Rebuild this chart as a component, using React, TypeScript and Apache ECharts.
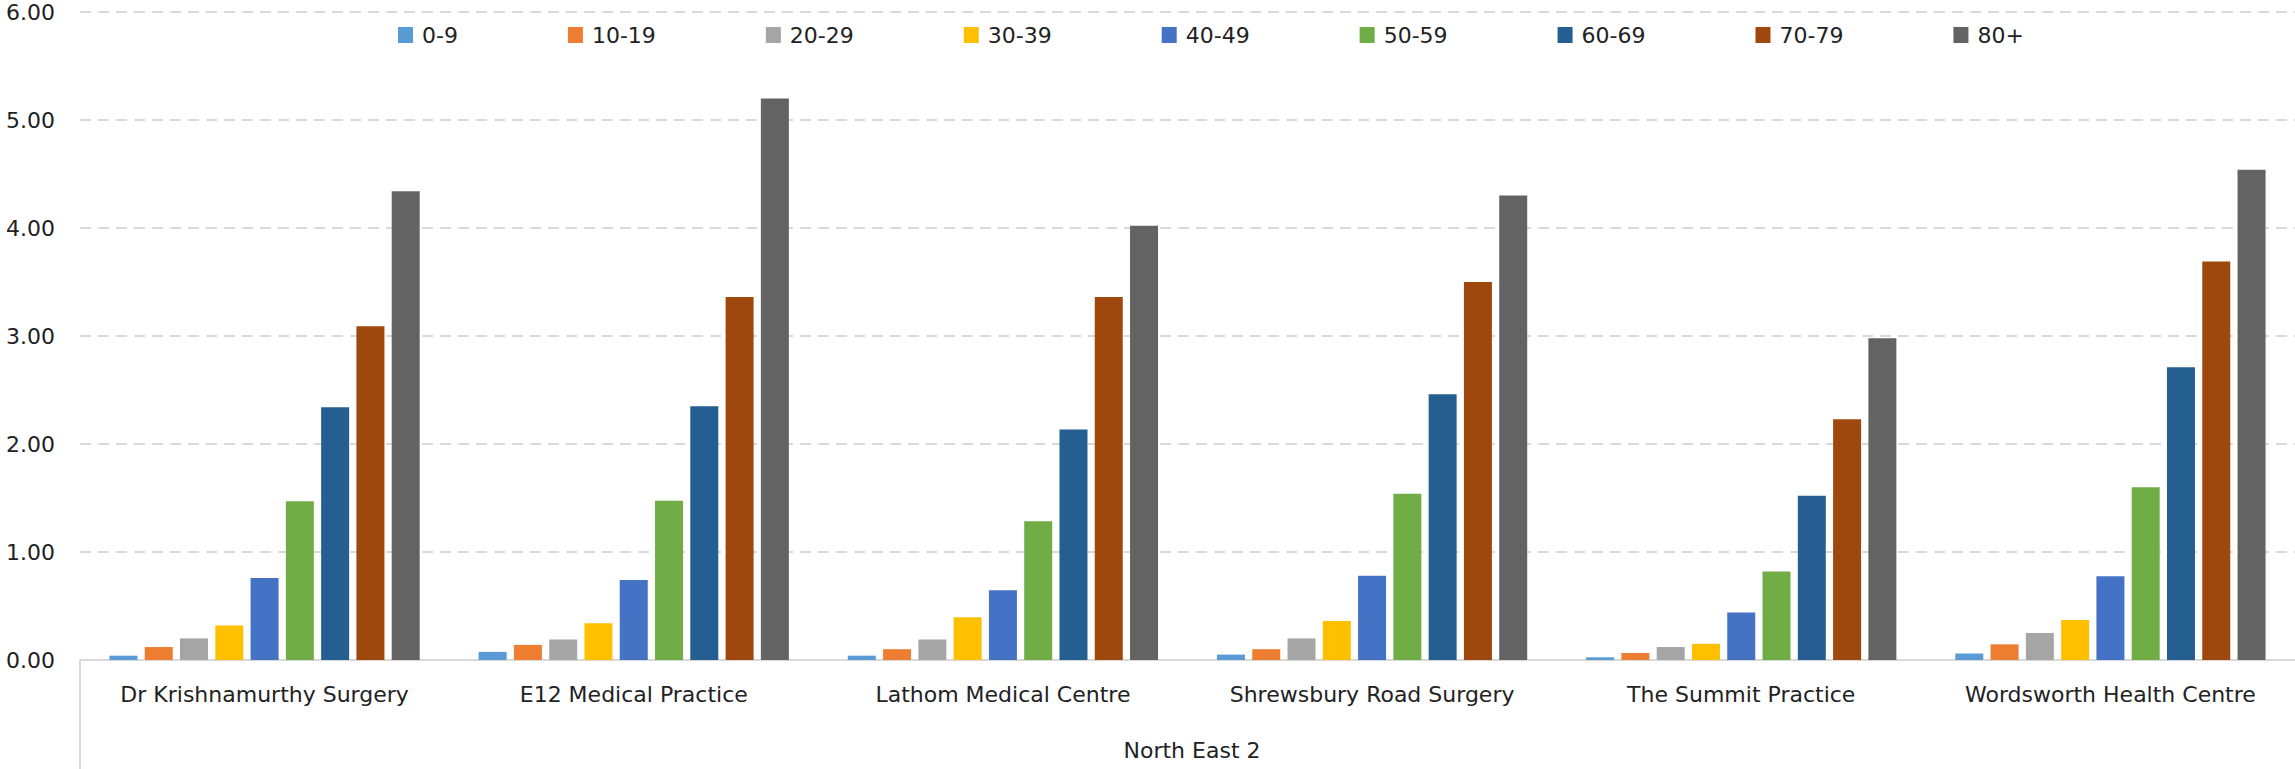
import React, { useEffect, useRef } from "react";
import * as echarts from "echarts";

const categories = [
  "Dr Krishnamurthy Surgery",
  "E12 Medical Practice",
  "Lathom Medical Centre",
  "Shrewsbury Road Surgery",
  "The Summit Practice",
  "Wordsworth Health Centre",
];
const groupLabel = "North East 2";
const ageBands = ["0-9", "10-19", "20-29", "30-39", "40-49", "50-59", "60-69", "70-79", "80+"];

const age0to9 = [0.04, 0.075, 0.04, 0.05, 0.025, 0.06];
const age10to19 = [0.12, 0.14, 0.1, 0.1, 0.065, 0.145];
const age20to29 = [0.2, 0.19, 0.19, 0.2, 0.12, 0.25];
const age30to39 = [0.32, 0.34, 0.395, 0.36, 0.15, 0.37];
const age40to49 = [0.76, 0.74, 0.645, 0.78, 0.44, 0.775];
const age50to59 = [1.47, 1.475, 1.285, 1.54, 0.82, 1.6];
const age60to69 = [2.34, 2.35, 2.135, 2.46, 1.52, 2.71];
const age70to79 = [3.09, 3.36, 3.36, 3.5, 2.23, 3.69];
const age80plus = [4.34, 5.2, 4.02, 4.3, 2.98, 4.54];

const seriesValues = [
  age0to9, age10to19, age20to29, age30to39, age40to49,
  age50to59, age60to69, age70to79, age80plus,
];
const colors = [
  "#5B9BD5", "#ED7D31", "#A5A5A5", "#FFC000", "#4472C4",
  "#70AD47", "#255E91", "#9E480E", "#636363",
];

const FONT = "DejaVu Sans";
const TEXT = "#222222";

export default function App() {
  const ref = useRef<HTMLDivElement>(null);
  useEffect(() => {
    if (!ref.current) return;
    const chart = echarts.init(ref.current, undefined, { renderer: "svg" });
    chart.setOption({
      animation: false,
      backgroundColor: "#ffffff",
      color: colors,
      textStyle: { fontFamily: FONT },
      grid: { left: 80, right: -9, top: 12, bottom: 109, containLabel: false },
      legend: {
        data: ageBands,
        left: 398,
        top: 24,
        padding: 0,
        icon: "rect",
        itemWidth: 15,
        itemHeight: 16,
        itemGap: 110,
        textStyle: { fontFamily: FONT, fontSize: 22, color: TEXT, padding: [0, 0, 0, 4] },
      },
      xAxis: {
        type: "category",
        data: categories,
        axisLine: { show: true, lineStyle: { color: "#d9d9d9", width: 2 } },
        axisTick: { show: false },
        axisLabel: {
          fontFamily: FONT,
          fontSize: 22,
          lineHeight: 22,
          color: TEXT,
          margin: 23,
          interval: 0,
        },
        splitLine: { show: false },
      },
      yAxis: {
        type: "value",
        min: 0,
        max: 6,
        interval: 1,
        axisLine: { show: false },
        axisTick: { show: false },
        axisLabel: {
          fontFamily: FONT,
          fontSize: 22,
          color: TEXT,
          margin: 25,
          formatter: (v: number) => v.toFixed(2),
        },
        splitLine: {
          show: true,
          lineStyle: { color: "#d9d9d9", width: 2, type: [11, 7] },
        },
      },
      graphic: [
        {
          type: "line",
          shape: { x1: 80, y1: 660, x2: 80, y2: 769 },
          style: { stroke: "#d9d9d9", lineWidth: 2 },
          silent: true,
        },
        {
          type: "text",
          x: 1192,
          y: 750.5,
          style: {
            text: groupLabel,
            fontFamily: FONT,
            fontSize: 22,
            fill: TEXT,
            textAlign: "center",
            textVerticalAlign: "middle",
          },
          silent: true,
        },
      ],
      series: ageBands.map((name, i) => ({
        name,
        type: "bar",
        data: seriesValues[i],
        barWidth: 28,
        barGap: "26%",
        itemStyle: { color: colors[i] },
      })),
    });
    return () => chart.dispose();
  }, []);
  return (
    <div
      ref={ref}
      style={{ position: "fixed", left: 0, top: 0, width: 2295, height: 769, background: "#fff" }}
    />
  );
}
